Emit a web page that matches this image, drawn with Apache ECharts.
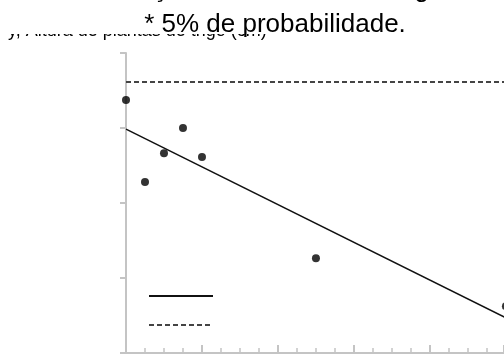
<!DOCTYPE html>
<html>
<head>
<meta charset="utf-8">
<script src="https://cdn.jsdelivr.net/npm/echarts@6/dist/echarts.min.js"></script>
<style>html,body{margin:0;padding:0;background:#fff}#c{width:504px;height:358px}</style>
</head>
<body>
<div id="c"></div>
<script>
// Doses (x) and observed means (y)
const doses = [0, 5, 10, 15, 20, 50, 100];
const heights = [67.5, 45.6, 53.3, 60.0, 52.3, 25.3, 12.5];
// Fitted regression line end points
const regX = [0, 100];
const regY = [59.7, 9.4];
// Reference (dashed) level
const refX = [0, 100];
const refY = [72.3, 72.3];
// Axis settings (visible part of the axis is cropped at 99.5)
const xMin = 0, xMax = 99.5, xStep = 20;
const yTicks = [0, 20, 40, 60, 80];

const captionTop = 'Figura 3. Altura de plantas em função das doses de nitrogênio. ** significativo a 1% e';
const caption = '* 5% de probabilidade.';
const hiddenTitle = 'y, Altura de plantas de trigo (cm)';

const chart = echarts.init(document.getElementById('c'), null, {renderer: 'canvas'});
const axisGray = '#c4c4c4';
chart.setOption({
  animation: false,
  backgroundColor: '#ffffff',
  grid: {left: 126, top: 53, right: 0, bottom: 5},
  xAxis: {
    type: 'value', min: xMin, max: xMax, interval: xStep,
    axisLine: {show: true, lineStyle: {color: axisGray, width: 2}},
    axisTick: {show: true, inside: true, length: 8, lineStyle: {color: axisGray, width: 2}},
    minorTick: {show: true, splitNumber: 4, length: 5, lineStyle: {color: axisGray, width: 1.5}},
    axisLabel: {show: false},
    splitLine: {show: false}
  },
  yAxis: {
    type: 'value', min: yTicks[0], max: yTicks[yTicks.length - 1], interval: 20,
    axisLine: {show: true, lineStyle: {color: axisGray, width: 2}},
    axisTick: {show: true, inside: false, length: 6, lineStyle: {color: axisGray, width: 2}},
    axisLabel: {show: false},
    splitLine: {show: false}
  },
  series: [
    {
      type: 'line', data: refX.map((x, i) => [x, refY[i]]), symbol: 'none',
      lineStyle: {color: '#444', width: 2, type: [5, 3]}, z: 2
    },
    {
      type: 'line', data: regX.map((x, i) => [x, regY[i]]), symbol: 'none',
      lineStyle: {color: '#111', width: 1.5}, z: 3
    },
    {
      type: 'scatter', data: doses.map((x, i) => [x, heights[i]]), clip: false,
      symbol: 'circle', symbolSize: 8, itemStyle: {color: '#000'}, z: 4
    }
  ],
  graphic: {
    elements: [
      {type: 'text', x: 252, y: 2.5, z: 1, z2: 1, style: {text: captionTop, font: '26px "Liberation Sans", Arial, sans-serif', fill: '#000', align: 'center', verticalAlign: 'bottom'}},
      {type: 'text', x: 8, y: 40, z: 1, z2: 1, style: {text: hiddenTitle, font: '18px "Liberation Sans", Arial, sans-serif', fill: '#000', align: 'left', verticalAlign: 'bottom'}},
      {type: 'rect', z: 50, z2: 50, shape: {x: 0, y: 5, width: 504, height: 29}, style: {fill: '#ffffff', stroke: null}},
      {type: 'text', x: 275, y: 25, z: 100, z2: 100, style: {text: caption, font: '26px "Liberation Sans", Arial, sans-serif', fill: '#000', align: 'center', verticalAlign: 'middle'}},
      {type: 'line', z: 100, shape: {x1: 149, y1: 296, x2: 213, y2: 296}, style: {stroke: '#111', lineWidth: 2}},
      {type: 'line', z: 100, shape: {x1: 149, y1: 325, x2: 213, y2: 325}, style: {stroke: '#444', lineWidth: 2, lineDash: [5, 3]}}
    ]
  }
});
</script>
</body>
</html>
